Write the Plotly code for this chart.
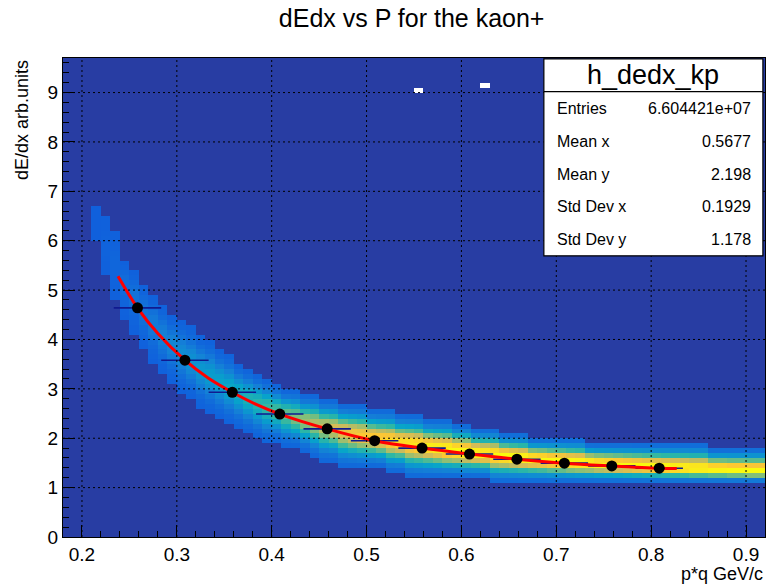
import numpy as np
import plotly.graph_objects as go

# ---------------- data ----------------
title_text = "dEdx vs P for the kaon+"
x_title = "p*q GeV/c"
y_title = "dE/dx arb.units"

x_ticks = [0.2, 0.3, 0.4, 0.5, 0.6, 0.7, 0.8, 0.9]
y_ticks = [0, 1, 2, 3, 4, 5, 6, 7, 8, 9]

# 2D histogram: band described per x-column (left bin edges 0.21 .. 0.91, width 0.01)
band_cols = [round(0.21 + 0.01 * i, 2) for i in range(71)]
band_top = [6.7, 6.5, 6.2, 5.6, 5.4, 5.1, 4.9, 4.7, 4.5, 4.4,
            4.3, 4.1, 4.0, 3.8, 3.7, 3.5, 3.4, 3.3, 3.2, 3.1,
            3.0, 3.0, 2.9, 2.9, 2.8, 2.8, 2.7, 2.7, 2.7, 2.6,
            2.6, 2.6, 2.5, 2.5, 2.5, 2.4, 2.4, 2.4, 2.3, 2.3,
            2.2, 2.2, 2.2, 2.1, 2.1, 2.1, 2.0, 2.0, 2.0, 2.0,
            2.0, 2.0, 1.9, 1.9, 1.9, 1.9, 1.9, 1.9, 1.9, 1.9,
            1.9, 1.9, 1.9, 1.9, 1.9, 1.8, 1.8, 1.8, 1.8, 1.8, 1.8]
band_bot = [6.0, 5.3, 4.8, 4.4, 4.1, 3.8, 3.5, 3.3, 3.1, 2.9,
            2.8, 2.6, 2.5, 2.4, 2.3, 2.2, 2.1, 2.0, 1.9, 1.9,
            1.8, 1.8, 1.7, 1.6, 1.5, 1.5, 1.4, 1.4, 1.4, 1.4,
            1.4, 1.3, 1.3, 1.2, 1.2, 1.2, 1.2, 1.2, 1.2, 1.2,
            1.2, 1.2, 1.1, 1.1, 1.1, 1.1, 1.1, 1.1, 1.1, 1.1,
            1.1, 1.1, 1.1, 1.1, 1.1, 1.1, 1.1, 1.1, 1.1, 1.1,
            1.1, 1.1, 1.1, 1.1, 1.1, 1.1, 1.1, 1.1, 1.1, 1.1, 1.1]
band_center = [6.3, 5.9, 5.55, 5.2, 4.9, 4.6, 4.35, 4.1, 3.9, 3.72,
               3.55, 3.4, 3.27, 3.15, 3.03, 2.92, 2.82, 2.73, 2.65, 2.57,
               2.5, 2.43, 2.37, 2.31, 2.25, 2.2, 2.15, 2.1, 2.06, 2.02,
               1.98, 1.95, 1.92, 1.89, 1.86, 1.83, 1.8, 1.77, 1.75, 1.72,
               1.7, 1.68, 1.66, 1.64, 1.62, 1.6, 1.58, 1.57, 1.55, 1.54,
               1.52, 1.51, 1.5, 1.48, 1.47, 1.46, 1.45, 1.44, 1.43, 1.42,
               1.41, 1.4, 1.39, 1.38, 1.38, 1.37, 1.37, 1.36, 1.36, 1.35, 1.35]
band_peak = [0.14, 0.15, 0.16, 0.18, 0.2, 0.21, 0.23, 0.25, 0.27, 0.29,
             0.31, 0.33, 0.35, 0.37, 0.39, 0.42, 0.45, 0.48, 0.51, 0.54,
             0.58, 0.62, 0.66, 0.7, 0.74, 0.78, 0.82, 0.85, 0.87, 0.88,
             0.9, 0.92, 0.93, 0.95, 0.96, 0.97, 0.98, 1.0, 1.0, 1.0,
             1.0, 1.0, 1.0, 1.0, 1.0, 1.0, 1.0, 1.0, 1.0, 1.0,
             1.0, 1.0, 1.0, 1.0, 1.0, 1.0, 1.0, 1.0, 1.0, 1.0,
             1.0, 1.0, 1.0, 1.0, 1.0, 1.0, 1.0, 1.0, 1.0, 1.0, 1.0]
background_level = 0.0
edge_level = 0.14
profile_sigma = 0.37
empty_cells_x = [0.555, 0.625]
empty_cells_y = [9.05, 9.15]

# profile points (black markers with horizontal error bars)
prof_x = [0.2585, 0.3085, 0.3585, 0.4085, 0.4585, 0.5085,
          0.5585, 0.6085, 0.6585, 0.7085, 0.7585, 0.8085]
prof_y = [4.64, 3.58, 2.93, 2.49, 2.19, 1.95, 1.80, 1.68, 1.575, 1.495, 1.44, 1.393]
prof_xerr = [0.025] * 12

# fitted curve (red)
fit_x = [0.238, 0.2585, 0.28, 0.3085, 0.333, 0.3585, 0.383, 0.4085, 0.4585, 0.5085,
         0.5585, 0.6085, 0.6585, 0.7085, 0.7585, 0.8085, 0.827]
fit_y = [5.28, 4.64, 4.12, 3.58, 3.22, 2.93, 2.69, 2.49, 2.19, 1.95,
         1.80, 1.68, 1.575, 1.495, 1.44, 1.393, 1.385]

stat_title = "h_dedx_kp"
stat_names = ["Entries", "Mean x", "Mean y", "Std Dev x", "Std Dev y"]
stat_values = ["6.604421e+07", "0.5677", "2.198", "0.1929", "1.178"]

# ---------------- build histogram grid ----------------
xc = np.round(np.arange(0.185, 0.92, 0.01), 3)
yc = np.round(np.arange(0.05, 10.0, 0.1), 3)
z = np.full((len(yc), len(xc)), background_level, dtype=float)
for c, top, bot, cen, pk in zip(band_cols, band_top, band_bot, band_center, band_peak):
    j = int(np.argmin(np.abs(xc - (c + 0.005))))
    for k, y in enumerate(yc):
        if bot <= y <= top:
            if y < cen:
                t = (cen - y) / max(cen - bot, 1e-6)
            else:
                t = (y - cen) / max(top - cen, 1e-6)
            t = min(max(t, 0.0), 1.0)
            z[k, j] = edge_level + (pk - edge_level) * np.exp(-0.5 * (t / profile_sigma) ** 2)
zl = z.tolist()
for ex, ey in zip(empty_cells_x, empty_cells_y):
    j = int(np.argmin(np.abs(xc - ex)))
    k = int(np.argmin(np.abs(yc - ey)))
    zl[k][j] = None

bird = [
    [0.0, "rgb(40,61,163)"],
    [0.125, "rgb(15,92,221)"],
    [0.25, "rgb(20,129,214)"],
    [0.375, "rgb(6,164,202)"],
    [0.5, "rgb(46,183,164)"],
    [0.625, "rgb(135,191,119)"],
    [0.75, "rgb(209,187,89)"],
    [0.875, "rgb(254,200,50)"],
    [1.0, "rgb(249,251,14)"],
]

FONT = "Liberation Sans, Arial, Helvetica, sans-serif"

fig = go.Figure()
fig.add_trace(go.Heatmap(x=xc, y=yc, z=zl, colorscale=bird, zmin=0, zmax=1,
                         showscale=False, hoverinfo="skip"))
fig.add_trace(go.Scatter(x=prof_x, y=prof_y, mode="markers",
                         marker=dict(size=1, color="rgba(0,0,0,0)"),
                         error_x=dict(type="data", array=prof_xerr, width=0,
                                      thickness=1.6, color="#101a90"),
                         showlegend=False, hoverinfo="skip"))
fig.add_trace(go.Scatter(x=fit_x, y=fit_y, mode="lines", line_shape="spline",
                         line=dict(color="#ff0000", width=3),
                         showlegend=False, hoverinfo="skip"))
fig.add_trace(go.Scatter(x=prof_x, y=prof_y, mode="markers",
                         marker=dict(size=11, color="black"),
                         showlegend=False, hoverinfo="skip"))

shapes = []
for xt in x_ticks:
    shapes.append(dict(type="line", xref="x", yref="paper", x0=xt, x1=xt, y0=0, y1=1,
                       line=dict(color="black", width=1, dash="2px,3px"), layer="above"))
for yt in y_ticks[1:]:
    shapes.append(dict(type="line", xref="paper", yref="y", x0=0, x1=1, y0=yt, y1=yt,
                       line=dict(color="black", width=1, dash="2px,3px"), layer="above"))
# stats box
box_l, box_r, box_t, box_b, box_sep = 0.685, 0.997, 0.998, 0.587, 0.9297
shapes.append(dict(type="rect", xref="paper", yref="paper", x0=box_l, x1=box_r, y0=box_b, y1=box_t,
                   fillcolor="white", line=dict(color="black", width=1.2), layer="above"))
shapes.append(dict(type="line", xref="paper", yref="paper", x0=box_l, x1=box_r, y0=box_sep, y1=box_sep,
                   line=dict(color="black", width=1.2), layer="above"))

annotations = [
    dict(text=stat_title, xref="paper", yref="paper", x=(box_l + box_r) / 2, y=0.9645,
         xanchor="center", yanchor="middle", showarrow=False,
         font=dict(family=FONT, size=27, color="black")),
    dict(text=y_title, xref="paper", yref="paper", x=-0.0584, y=1.0, textangle=-90,
         xanchor="center", yanchor="top", showarrow=False,
         font=dict(family=FONT, size=18, color="black")),
    dict(text=x_title, xref="paper", yref="paper", x=1.0, y=-0.078,
         xanchor="right", yanchor="middle", showarrow=False,
         font=dict(family=FONT, size=18, color="black")),
]
row_y = [0.895, 0.8253, 0.7578, 0.6896, 0.6215]
for name, val, ry in zip(stat_names, stat_values, row_y):
    annotations.append(dict(text=name, xref="paper", yref="paper", x=0.7009, y=ry,
                            xanchor="left", yanchor="middle", showarrow=False,
                            font=dict(family=FONT, size=16, color="black")))
    annotations.append(dict(text=val, xref="paper", yref="paper", x=0.9829, y=ry,
                            xanchor="right", yanchor="middle", showarrow=False,
                            font=dict(family=FONT, size=16, color="black")))

axis_common = dict(showgrid=False, zeroline=False, showline=True, mirror=True,
                   linecolor="black", linewidth=1, ticks="inside", tickcolor="black",
                   tickwidth=1, ticklen=12, layer="above traces",
                   tickfont=dict(family=FONT, size=19, color="black"))

fig.update_layout(
    width=768, height=586,
    margin=dict(l=63, r=3, t=58, b=49),
    paper_bgcolor="white", plot_bgcolor="white",
    title=dict(text=title_text, x=0.536, xanchor="center", y=0.969, yanchor="middle",
               font=dict(family=FONT, size=25, color="black")),
    xaxis=dict(range=[0.18, 0.92], tickvals=x_ticks, ticktext=[f"{v:g}" for v in x_ticks],
               minor=dict(dtick=0.02, tick0=0.2, ticks="inside", ticklen=6, tickcolor="black"),
               **axis_common),
    yaxis=dict(range=[0, 9.7], tickvals=y_ticks, ticktext=[str(v) for v in y_ticks],
               minor=dict(dtick=0.2, tick0=0, ticks="inside", ticklen=6, tickcolor="black"),
               **axis_common),
    shapes=shapes,
    annotations=annotations,
    showlegend=False,
)

fig.write_html("out.html")
